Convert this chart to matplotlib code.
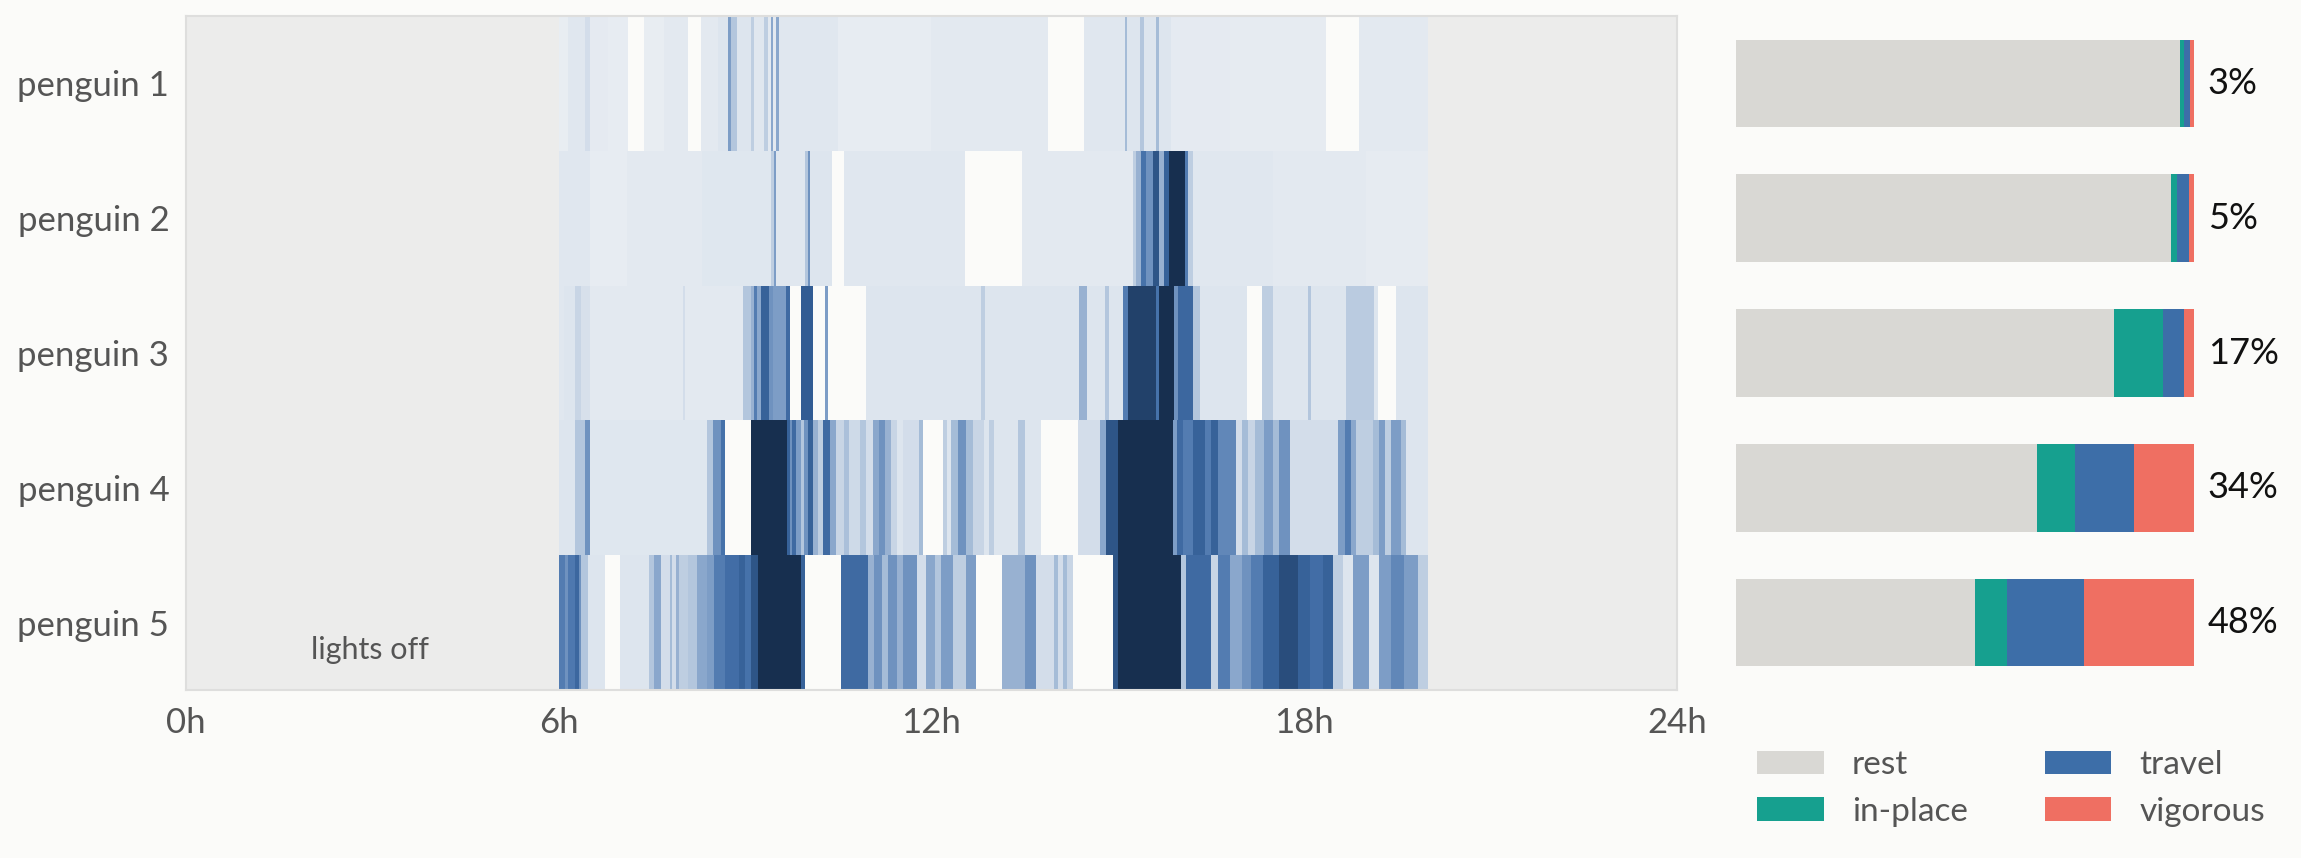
import numpy as np
import matplotlib
matplotlib.use("Agg")
import matplotlib.pyplot as plt
from matplotlib.colors import LinearSegmentedColormap

plt.rcParams['font.family'] = ['Lato', 'DejaVu Sans']

# penguin activity during lights-on, as (edges in hours, intensity 0-1, nan = no data)
p1_edges = [6.0, 6.15, 6.42, 6.50, 6.79, 7.11, 7.37, 7.70, 8.08, 8.29, 8.56, 8.72, 8.78, 8.87,
            9.10, 9.15, 9.31, 9.37, 9.41, 9.45, 9.50, 9.54, 10.5, 12.0, 13.88, 14.45, 15.11,
            15.14, 15.35, 15.42, 15.61, 15.67, 15.86, 16.8, 18.35, 18.89, 20.0]
p1_levels = [0.05, 0.12, 0.2, 0.08, 0.06, np.nan, 0.05, 0.1, np.nan, 0.1, 0.15, 0.55, 0.35,
             0.15, 0.3, 0.12, 0.3, 0.1, 0.5, 0.1, 0.5, 0.12, 0.06, 0.1, np.nan, 0.12, 0.4,
             0.15, 0.35, 0.15, 0.4, 0.15, 0.08, 0.07, np.nan, 0.1]

p2_edges = [6.0, 6.5, 7.1, 8.3, 9.41, 9.47, 9.50, 9.97, 10.01, 10.05, 10.40, 10.60, 12.54,
            13.45, 15.24, 15.30, 15.38, 15.46, 15.57, 15.66, 15.74, 15.83, 16.08, 16.13,
            16.21, 17.5, 19.0, 20.0]
p2_levels = [0.12, 0.06, 0.1, 0.13, 0.3, 0.55, 0.12, 0.35, 0.6, 0.15, np.nan, 0.12, np.nan,
             0.1, 0.3, 0.45, 0.75, 0.6, 0.9, 0.45, 0.85, 1.0, 0.7, 0.3, 0.12, 0.09, 0.07]

p3_edges = [6.0, 6.08, 6.27, 6.36, 6.50, 8.0, 8.04, 8.97, 9.10, 9.15, 9.20, 9.26, 9.38, 9.45,
            9.66, 9.73, 9.90, 10.09, 10.28, 10.34, 10.94, 12.80, 12.87, 14.38, 14.51, 14.79,
            14.85, 15.08, 15.17, 15.62, 15.67, 15.91, 15.97, 16.21, 16.32, 17.08, 17.32, 17.50,
            18.06, 18.11, 18.68, 19.12, 19.18, 19.48, 20.0]
p3_levels = [0.12, 0.15, 0.25, 0.18, 0.1, 0.2, 0.1, 0.35, 0.45, 0.7, 0.5, 0.85, 0.6, 0.55,
             0.8, np.nan, 0.88, np.nan, 0.55, np.nan, 0.15, 0.3, 0.15, 0.45, 0.15, 0.35, 0.15,
             0.7, 0.95, 0.75, 1.0, 0.6, 0.82, 0.35, 0.15, np.nan, 0.3, 0.15, 0.35, 0.15, 0.32,
             0.15, np.nan, 0.15]

p4_edges = [6.0, 6.27, 6.42, 6.50, 8.38, 8.48, 8.62, 8.67, 9.10, 9.67, 9.73, 9.76, 9.82, 9.90,
            9.95, 10.01, 10.09, 10.17, 10.25, 10.36, 10.47, 10.6, 10.68, 10.85, 10.95, 11.06,
            11.15, 11.25, 11.35, 11.45, 11.55, 11.80, 11.86, 12.18, 12.25, 12.32, 12.43, 12.55,
            12.67, 12.85, 12.92, 13.0, 13.4, 13.5, 13.77, 14.36, 14.71, 14.81, 15.00, 15.89,
            15.95, 16.05, 16.21, 16.4, 16.5, 16.61, 16.91, 17.0, 17.1, 17.2, 17.36, 17.5, 17.6,
            17.77, 18.54, 18.65, 18.75, 18.84, 19.11, 19.2, 19.3, 19.4, 19.55, 19.64, 20.0]
p4_levels = [0.15, 0.35, 0.6, 0.13, 0.35, 0.6, 0.75, np.nan, 1.0, 0.85, 0.6, 0.8, 0.55, 0.35,
             0.6, 0.85, 0.45, 0.3, 0.8, 0.5, 0.25, 0.38, 0.22, 0.35, 0.2, 0.5, 0.6, 0.45, 0.25,
             0.15, 0.2, 0.4, np.nan, 0.3, 0.15, 0.4, 0.6, 0.4, 0.25, 0.15, 0.3, 0.15, 0.35,
             0.15, np.nan, 0.2, 0.5, 0.9, 1.0, 0.55, 0.8, 0.7, 0.85, 0.7, 0.85, 0.65, 0.2, 0.4,
             0.25, 0.4, 0.55, 0.4, 0.6, 0.2, 0.55, 0.7, 0.5, 0.3, 0.4, 0.55, 0.3, 0.55, 0.4,
             0.15]

p5_edges = [6.0, 6.10, 6.15, 6.27, 6.32, 6.36, 6.47, 6.74, 6.99, 7.46, 7.54, 7.64, 7.79, 7.83,
            7.89, 7.93, 8.08, 8.22, 8.38, 8.50, 8.67, 8.90, 9.0, 9.10, 9.21, 9.90, 9.97, 10.54,
            10.98, 11.08, 11.20, 11.30, 11.45, 11.55, 11.76, 11.92, 12.05, 12.15, 12.35, 12.56,
            12.71, 13.14, 13.50, 13.69, 13.98, 14.04, 14.12, 14.18, 14.28, 14.92, 15.00, 16.01,
            16.10, 16.50, 16.61, 16.80, 17.0, 17.15, 17.34, 17.6, 17.9, 18.1, 18.3, 18.46,
            18.62, 18.78, 19.05, 19.21, 19.4, 19.6, 19.83, 20.0]
p5_levels = [0.7, 0.6, 0.72, 0.82, 0.6, 0.35, 0.15, np.nan, 0.15, 0.35, 0.5, 0.2, 0.4, 0.2,
             0.45, 0.3, 0.35, 0.5, 0.55, 0.7, 0.78, 0.85, 0.75, 0.9, 1.0, 0.85, np.nan, 0.8,
             0.45, 0.6, 0.4, 0.6, 0.45, 0.6, 0.2, 0.5, 0.35, 0.55, 0.3, 0.55, np.nan, 0.45,
             0.6, 0.2, 0.4, 0.2, 0.4, 0.25, np.nan, 0.9, 1.0, 0.35, 0.8, 0.25, 0.7, 0.5, 0.6,
             0.7, 0.85, 0.92, 0.85, 0.78, 0.85, 0.3, 0.15, 0.55, 0.15, 0.55, 0.65, 0.55, 0.3]

penguins = ["penguin 1", "penguin 2", "penguin 3", "penguin 4", "penguin 5"]
all_edges = [p1_edges, p2_edges, p3_edges, p4_edges, p5_edges]
all_levels = [p1_levels, p2_levels, p3_levels, p4_levels, p5_levels]

# share of time per behaviour (%)
behaviours = ["rest", "in-place", "travel", "vigorous"]
rest = [97.0, 95.0, 82.6, 65.7, 52.2]
in_place = [0.9, 1.2, 10.7, 8.4, 7.0]
travel = [1.3, 2.8, 4.5, 12.7, 16.8]
vigorous = [0.8, 1.0, 2.2, 13.2, 24.0]
beh_colors = ["#d9d8d4", "#16a08f", "#3d6ea8", "#ef6f62"]

bg = "#fbfbf9"
txt = "#555555"

fig = plt.figure(figsize=(23.01, 8.58), dpi=100, facecolor=bg)

# heatmap
ax = fig.add_axes([0.0808, 0.1958, 0.648, 0.7855])
ax.set_facecolor("#ececeb")
cmap = LinearSegmentedColormap.from_list("act", [(0.0, "#edf0f4"), (0.15, "#dde5ee"),
                                                 (0.35, "#b3c6dd"), (0.55, "#7d9dc6"),
                                                 (0.75, "#4672ab"), (0.88, "#335d94"),
                                                 (1.0, "#172f4f")])
cmap.set_bad(bg)
for i in range(len(penguins)):
    vals = np.ma.masked_invalid(np.array([all_levels[i]]))
    ax.pcolormesh(all_edges[i], [i, i + 1], vals, cmap=cmap, vmin=0, vmax=1,
                  shading='flat', edgecolors='none')

ax.set_xlim(0, 24)
ax.set_ylim(5, 0)
ax.set_xticks([0, 6, 12, 18, 24])
ax.set_xticklabels(["0h", "6h", "12h", "18h", "24h"])
ax.set_yticks(np.arange(len(penguins)) + 0.5)
ax.set_yticklabels(penguins)
ax.tick_params(length=0, labelsize=25, labelcolor=txt)
ax.tick_params(axis='x', pad=12)
ax.tick_params(axis='y', pad=12)
for s in ax.spines.values():
    s.set_color("#dededd")
    s.set_linewidth(1.5)
ax.text(2.97, 4.70, "lights off", ha='center', va='center', fontsize=22, color=txt)

# stacked bars
ax2 = fig.add_axes([0.7545, 0.1958, 0.199, 0.7855])
ax2.set_facecolor(bg)
y = np.arange(len(penguins)) + 0.5
left = np.zeros(len(penguins))
for vals, name, col in zip([rest, in_place, travel, vigorous], behaviours, beh_colors):
    ax2.barh(y, vals, left=left, height=0.65, color=col, label=name)
    left = left + np.array(vals)
for yi, r in zip(y, rest):
    ax2.text(103, yi, f"{round(100 - r)}%", ha='left', va='center', fontsize=26, color="#111111")
ax2.set_xlim(0, 100)
ax2.set_ylim(5, 0)
ax2.axis('off')

handles, labels = ax2.get_legend_handles_labels()
fig.legend(handles, labels, ncol=2, loc='upper left', bbox_to_anchor=(0.7636, 0.126),
           frameon=False, fontsize=24, labelcolor=txt, handlelength=2.0, handleheight=0.7,
           handletextpad=0.85, columnspacing=2.3, labelspacing=0.5, borderpad=0,
           borderaxespad=0)

fig.savefig("out.png", dpi=100, facecolor=bg)
